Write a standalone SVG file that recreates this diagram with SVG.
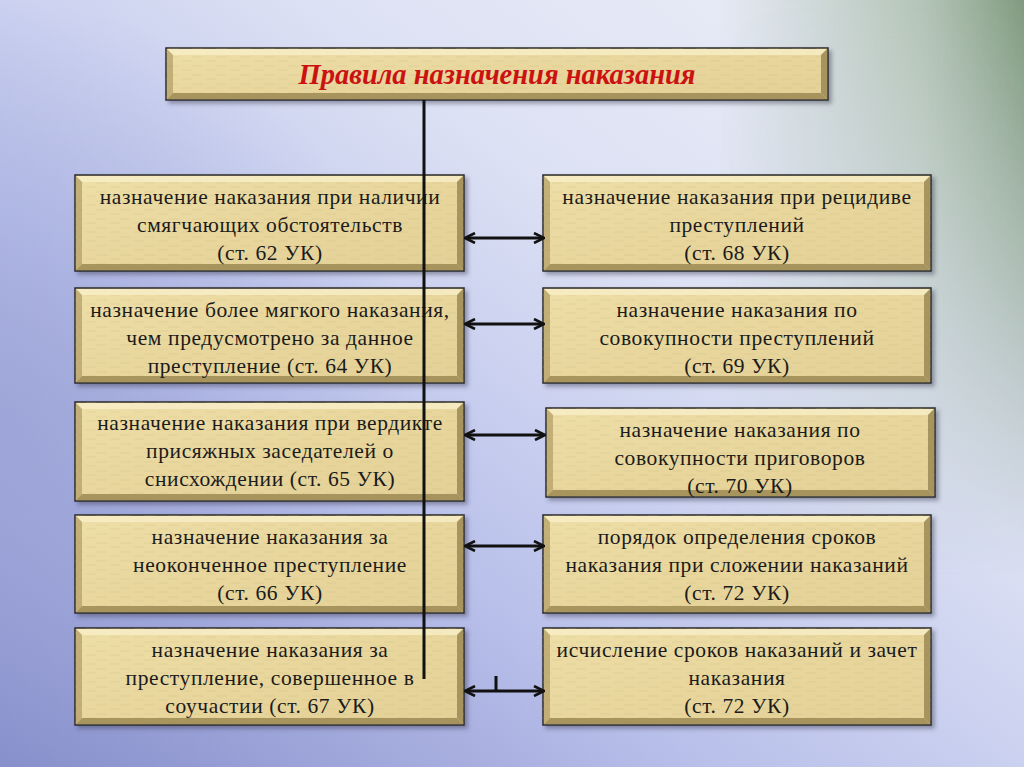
<svg xmlns="http://www.w3.org/2000/svg" width="1024" height="767" viewBox="0 0 1024 767">
<defs>
<linearGradient id="bg" x1="0" y1="1" x2="1" y2="0">
<stop offset="0" stop-color="#858dca"/>
<stop offset="0.35" stop-color="#b9c0ea"/>
<stop offset="0.65" stop-color="#dce1f4"/>
<stop offset="1" stop-color="#eef1f8"/>
</linearGradient>
<linearGradient id="grn" x1="0" y1="0" x2="1" y2="0">
<stop offset="0.7" stop-color="#8fa88c" stop-opacity="0"/>
<stop offset="0.9" stop-color="#8fa88c" stop-opacity="0.6"/>
<stop offset="1" stop-color="#7a9578" stop-opacity="0.95"/>
</linearGradient>
<linearGradient id="grnV" x1="0" y1="0" x2="0" y2="1">
<stop offset="0" stop-color="#fff" stop-opacity="1"/>
<stop offset="0.35" stop-color="#fff" stop-opacity="0.55"/>
<stop offset="0.75" stop-color="#fff" stop-opacity="0"/>
</linearGradient>
<mask id="gm"><rect width="1024" height="767" fill="url(#grnV)"/></mask>
<radialGradient id="lft" cx="0" cy="420" r="420" gradientUnits="userSpaceOnUse">
<stop offset="0" stop-color="#9aa2d6" stop-opacity="0.7"/>
<stop offset="1" stop-color="#9aa2d6" stop-opacity="0"/>
</radialGradient>
<linearGradient id="paper" x1="0" y1="0" x2="1" y2="1">
<stop offset="0" stop-color="#eedfa8"/>
<stop offset="0.5" stop-color="#e8d69c"/>
<stop offset="1" stop-color="#e3d097"/>
</linearGradient>
<pattern id="tex" width="24" height="9" patternUnits="userSpaceOnUse">
<path d="M0 3H11M14 7H24" stroke="#c9b57c" stroke-width="0.8" opacity="0.35"/>
</pattern>
<filter id="sh" x="-5%" y="-10%" width="115%" height="130%">
<feDropShadow dx="3" dy="3" stdDeviation="2" flood-color="#3a3a55" flood-opacity="0.45"/>
</filter>
<marker id="ah" viewBox="0 0 12 12" refX="10" refY="6" markerWidth="12" markerHeight="12" markerUnits="userSpaceOnUse" orient="auto-start-reverse">
<path d="M1 1 L11 6 L1 11" fill="none" stroke="#111" stroke-width="2.6" stroke-linejoin="miter"/>
</marker>
</defs>
<style>
.box{fill:url(#paper);stroke:#2a2a2a;stroke-width:1.5}
.tx{fill:url(#tex)}
.hl{fill:#f7edc8;opacity:0.8}
.dk{fill:#9c8852;opacity:0.85}
.md{fill:#b8a46c;opacity:0.8}
text{font-family:'Liberation Serif','Times New Roman','DejaVu Serif',serif}
.t{font-size:21.5px;letter-spacing:0.6px;fill:#1b1b1b;text-anchor:middle}
.ttl{font-size:28.5px;font-weight:bold;font-style:italic;fill:#cc1111;text-anchor:middle}
.ln{stroke:#111;stroke-width:3;fill:none}
</style>
<rect width="1024" height="767" fill="url(#bg)"/>
<rect width="1024" height="767" fill="url(#lft)"/>
<rect width="1024" height="767" fill="url(#grn)" mask="url(#gm)"/>

<g id="title">
<g filter="url(#sh)">
<rect class="box" x="166" y="48" width="662" height="52"/>
<rect class="tx" x="166" y="48" width="662" height="52"/>
<polygon class="hl" points="167,49 827,49 821,55 173,55"/>
<polygon class="md" points="167,49 173,55 173,93 167,99"/>
<polygon class="dk" points="167,99 173,93 821,93 827,99"/>
<polygon class="dk" points="827,49 827,99 821,93 821,55"/>
</g>
<text class="ttl" x="497" y="84">Правила назначения наказания</text>
</g>

<g id="l1">
<g filter="url(#sh)">
<rect class="box" x="75" y="175" width="389" height="96"/>
<rect class="tx" x="75" y="175" width="389" height="96"/>
<polygon class="hl" points="76,176 463,176 457,182 82,182"/>
<polygon class="md" points="76,176 82,182 82,264 76,270"/>
<polygon class="dk" points="76,270 82,264 457,264 463,270"/>
<polygon class="dk" points="463,176 463,270 457,264 457,182"/>
</g>
<text class="t" x="270" y="204">назначение наказания при наличии</text>
<text class="t" x="270" y="232">смягчающих обстоятельств</text>
<text class="t" x="270" y="260">(ст. 62 УК)</text>
</g>

<g id="l2">
<g filter="url(#sh)">
<rect class="box" x="75" y="288" width="389" height="95"/>
<rect class="tx" x="75" y="288" width="389" height="95"/>
<polygon class="hl" points="76,289 463,289 457,295 82,295"/>
<polygon class="md" points="76,289 82,295 82,376 76,382"/>
<polygon class="dk" points="76,382 82,376 457,376 463,382"/>
<polygon class="dk" points="463,289 463,382 457,376 457,295"/>
</g>
<text class="t" x="270" y="317">назначение более мягкого наказания,</text>
<text class="t" x="270" y="345">чем предусмотрено за данное</text>
<text class="t" x="270" y="373">преступление (ст. 64 УК)</text>
</g>

<g id="l3">
<g filter="url(#sh)">
<rect class="box" x="75" y="402" width="389" height="99"/>
<rect class="tx" x="75" y="402" width="389" height="99"/>
<polygon class="hl" points="76,403 463,403 457,409 82,409"/>
<polygon class="md" points="76,403 82,409 82,494 76,500"/>
<polygon class="dk" points="76,500 82,494 457,494 463,500"/>
<polygon class="dk" points="463,403 463,500 457,494 457,409"/>
</g>
<text class="t" x="270" y="430">назначение наказания при вердикте</text>
<text class="t" x="270" y="458">присяжных заседателей о</text>
<text class="t" x="270" y="486">снисхождении (ст. 65 УК)</text>
</g>

<g id="l4">
<g filter="url(#sh)">
<rect class="box" x="75" y="515" width="389" height="98"/>
<rect class="tx" x="75" y="515" width="389" height="98"/>
<polygon class="hl" points="76,516 463,516 457,522 82,522"/>
<polygon class="md" points="76,516 82,522 82,606 76,612"/>
<polygon class="dk" points="76,612 82,606 457,606 463,612"/>
<polygon class="dk" points="463,516 463,612 457,606 457,522"/>
</g>
<text class="t" x="270" y="544">назначение наказания за</text>
<text class="t" x="270" y="572">неоконченное преступление</text>
<text class="t" x="270" y="600">(ст. 66 УК)</text>
</g>

<g id="l5">
<g filter="url(#sh)">
<rect class="box" x="75" y="628" width="389" height="97"/>
<rect class="tx" x="75" y="628" width="389" height="97"/>
<polygon class="hl" points="76,629 463,629 457,635 82,635"/>
<polygon class="md" points="76,629 82,635 82,718 76,724"/>
<polygon class="dk" points="76,724 82,718 457,718 463,724"/>
<polygon class="dk" points="463,629 463,724 457,718 457,635"/>
</g>
<text class="t" x="270" y="657">назначение наказания за</text>
<text class="t" x="270" y="685">преступление, совершенное в</text>
<text class="t" x="270" y="713">соучастии (ст. 67 УК)</text>
</g>

<g id="r1">
<g filter="url(#sh)">
<rect class="box" x="543" y="175" width="388" height="96"/>
<rect class="tx" x="543" y="175" width="388" height="96"/>
<polygon class="hl" points="544,176 930,176 924,182 550,182"/>
<polygon class="md" points="544,176 550,182 550,264 544,270"/>
<polygon class="dk" points="544,270 550,264 924,264 930,270"/>
<polygon class="dk" points="930,176 930,270 924,264 924,182"/>
</g>
<text class="t" x="737" y="204">назначение наказания при рецидиве</text>
<text class="t" x="737" y="232">преступлений</text>
<text class="t" x="737" y="260">(ст. 68 УК)</text>
</g>

<g id="r2">
<g filter="url(#sh)">
<rect class="box" x="543" y="288" width="388" height="95"/>
<rect class="tx" x="543" y="288" width="388" height="95"/>
<polygon class="hl" points="544,289 930,289 924,295 550,295"/>
<polygon class="md" points="544,289 550,295 550,376 544,382"/>
<polygon class="dk" points="544,382 550,376 924,376 930,382"/>
<polygon class="dk" points="930,289 930,382 924,376 924,295"/>
</g>
<text class="t" x="737" y="317">назначение наказания по</text>
<text class="t" x="737" y="345">совокупности преступлений</text>
<text class="t" x="737" y="373">(ст. 69 УК)</text>
</g>

<g id="r3">
<g filter="url(#sh)">
<rect class="box" x="546" y="408" width="389" height="89"/>
<rect class="tx" x="546" y="408" width="389" height="89"/>
<polygon class="hl" points="547,409 934,409 928,415 553,415"/>
<polygon class="md" points="547,409 553,415 553,490 547,496"/>
<polygon class="dk" points="547,496 553,490 928,490 934,496"/>
<polygon class="dk" points="934,409 934,496 928,490 928,415"/>
</g>
<text class="t" x="740" y="437">назначение наказания по</text>
<text class="t" x="740" y="465">совокупности приговоров</text>
<text class="t" x="740" y="493">(ст. 70 УК)</text>
</g>

<g id="r4">
<g filter="url(#sh)">
<rect class="box" x="543" y="515" width="388" height="98"/>
<rect class="tx" x="543" y="515" width="388" height="98"/>
<polygon class="hl" points="544,516 930,516 924,522 550,522"/>
<polygon class="md" points="544,516 550,522 550,606 544,612"/>
<polygon class="dk" points="544,612 550,606 924,606 930,612"/>
<polygon class="dk" points="930,516 930,612 924,606 924,522"/>
</g>
<text class="t" x="737" y="544">порядок определения сроков</text>
<text class="t" x="737" y="572">наказания при сложении наказаний</text>
<text class="t" x="737" y="600">(ст. 72 УК)</text>
</g>

<g id="r5">
<g filter="url(#sh)">
<rect class="box" x="543" y="628" width="388" height="97"/>
<rect class="tx" x="543" y="628" width="388" height="97"/>
<polygon class="hl" points="544,629 930,629 924,635 550,635"/>
<polygon class="md" points="544,629 550,635 550,718 544,724"/>
<polygon class="dk" points="544,724 550,718 924,718 930,724"/>
<polygon class="dk" points="930,629 930,724 924,718 924,635"/>
</g>
<text class="t" x="737" y="657">исчисление сроков наказаний и зачет</text>
<text class="t" x="737" y="685">наказания</text>
<text class="t" x="737" y="713">(ст. 72 УК)</text>
</g>

<g id="connectors">
<line class="ln" x1="424" y1="100" x2="424" y2="679"/>
<line class="ln" x1="466" y1="238" x2="543" y2="238" marker-start="url(#ah)" marker-end="url(#ah)"/>
<line class="ln" x1="466" y1="324" x2="543" y2="324" marker-start="url(#ah)" marker-end="url(#ah)"/>
<line class="ln" x1="466" y1="435" x2="544" y2="435" marker-start="url(#ah)" marker-end="url(#ah)"/>
<line class="ln" x1="466" y1="546" x2="543" y2="546" marker-start="url(#ah)" marker-end="url(#ah)"/>
<line class="ln" x1="466" y1="691" x2="543" y2="691" marker-start="url(#ah)" marker-end="url(#ah)"/>
<line class="ln" x1="496" y1="676" x2="496" y2="690"/>
</g>
</svg>
